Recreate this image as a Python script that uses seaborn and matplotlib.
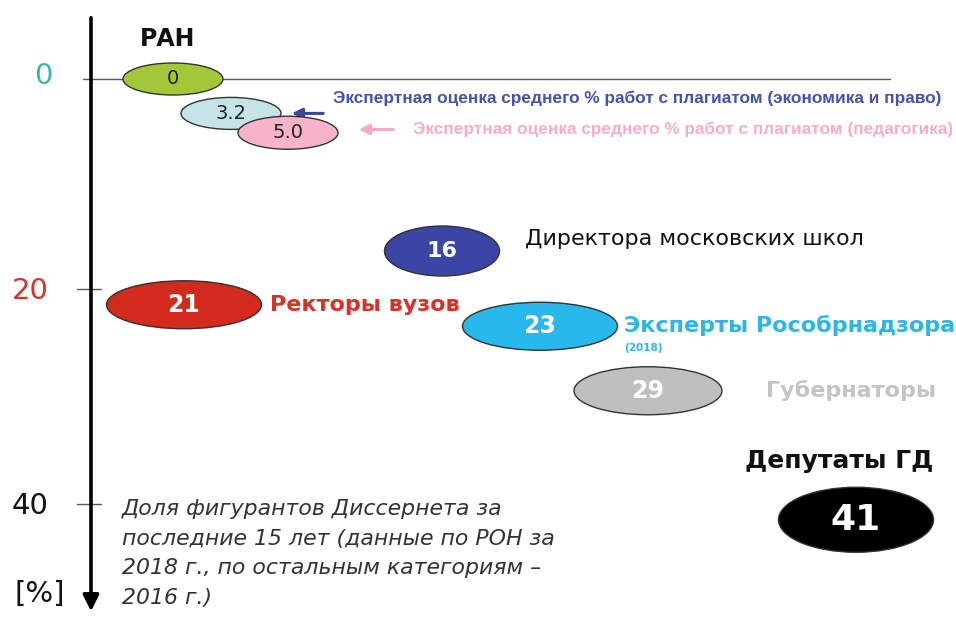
import matplotlib
matplotlib.use("Agg")
import matplotlib.pyplot as plt
from matplotlib.patches import Ellipse, FancyArrowPatch
import seaborn as sns

# data
categories = ["РАН", "экономика и право", "педагогика", "Директора московских школ",
              "Ректоры вузов", "Эксперты Рособрнадзора", "Губернаторы", "Депутаты ГД"]
values = [0, 3.2, 5.0, 16, 21, 23, 29, 41]
value_labels = ["0", "3.2", "5.0", "16", "21", "23", "29", "41"]
tick_values = [0, 20, 40]

# layout (x in pixels, sizes in pixels)
x_centers = [173, 231, 288, 442, 184, 540, 648, 856]
widths = [100, 100, 100, 115, 155, 155, 148, 155]
heights = [32, 32, 33, 50, 48, 48, 48, 65]
fills = ["#a4c639", "#c5e4e8", "#f8b4c6", "#3a45a5", "#d22a1c", "#27b9ec", "#bfbfbf", "#000000"]
num_colors = ["#222222", "#222222", "#222222", "white", "white", "white", "white", "white"]
num_sizes = [14, 14, 14, 16, 17, 17, 17, 26]
num_weights = ["normal", "normal", "normal", "bold", "bold", "bold", "bold", "bold"]
tick_colors = ["#3cb4b4", "#d9302a", "#111111"]

sns.set_theme(style="white")
plt.rcParams["font.family"] = ["DejaVu Sans"]

PX = 10.75      # pixels per percent
Y0 = 79         # pixel row of 0 %
W, H = 956, 617

def py(p):
    # pixel row -> value units
    return (p - Y0) / PX

fig = plt.figure(figsize=(W / 100, H / 100), dpi=100)
ax = fig.add_axes([0, 0, 1, 1])
ax.set_xlim(0, W)
ax.set_ylim(py(H), py(0))
ax.axis("off")

# zero line
ax.plot([83, 890], [0, 0], color="#555555", lw=1, zorder=1)
# axis with arrow pointing down
ax.add_patch(FancyArrowPatch((91, py(15)), (91, py(614)), arrowstyle="-|>,head_length=6,head_width=3",
                             mutation_scale=1.6, color="black", lw=2.6, zorder=2))
for t, c in zip(tick_values, tick_colors):
    if t:
        ax.plot([77, 101], [t - 0.5, t - 0.5], color="#555555", lw=1, zorder=1)
    ax.text(30 if t else 43, t - 0.3, str(t), color=c, fontsize=21, ha="center", va="center")
ax.text(40, py(594), "[%]", color="#111111", fontsize=21, ha="center", va="center")

# ellipses with numbers
for i, v in enumerate(values):
    ax.add_patch(Ellipse((x_centers[i], v), widths[i], heights[i] / PX,
                         facecolor=fills[i], edgecolor="#333333", lw=1, zorder=3 + i))
    ax.text(x_centers[i], v, value_labels[i], color=num_colors[i], fontsize=num_sizes[i],
            fontweight=num_weights[i], ha="center", va="center", zorder=20)

# category labels
ax.text(140, py(39), categories[0], fontsize=17, fontweight="bold", color="#111111", va="center")
ax.annotate("", xy=(289, values[1]), xytext=(326, values[1]),
            arrowprops=dict(arrowstyle="-|>,head_length=0.5,head_width=0.25", color="#3a45a5", lw=2.2))
ax.text(333, values[1] - 1.4, "Экспертная оценка среднего % работ с плагиатом (" + categories[1] + ")",
        fontsize=12.4, fontweight="bold", color="#4452b0", va="center", family="Liberation Sans")
ax.annotate("", xy=(356, values[2] - 0.3), xytext=(396, values[2] - 0.3),
            arrowprops=dict(arrowstyle="-|>,head_length=0.5,head_width=0.25", color="#f6a9c0", lw=2.2))
ax.text(413, values[2] - 0.3, "Экспертная оценка среднего % работ с плагиатом (" + categories[2] + ")",
        fontsize=12.4, fontweight="bold", color="#f7aec4", va="center", family="Liberation Sans")
ax.text(525, values[3] - 1.1, categories[3], fontsize=16, color="#111111", va="center")
ax.text(270, values[4], categories[4], fontsize=16, fontweight="bold", color="#d9302a", va="center")
ax.text(624, values[5] - 0.1, categories[5], fontsize=16, fontweight="bold", color="#2cb6e8", va="center")
ax.text(624, values[5] + 2.0, "(2018)", fontsize=7.5, fontweight="bold", color="#2cb6e8", va="center")
ax.text(766, values[6], categories[6], fontsize=16, fontweight="bold", color="#c4c4c4", va="center")
ax.text(745, values[7] - 5.5, categories[7], fontsize=18, fontweight="bold", color="#111111", va="center")

# note
ax.text(122, py(499), "Доля фигурантов Диссернета за\nпоследние 15 лет (данные по РОН за\n"
        "2018 г., по остальным категориям –\n2016 г.)", fontsize=15.8, style="italic",
        color="#333333", va="top", linespacing=1.6)

fig.savefig("out.png", dpi=100)
